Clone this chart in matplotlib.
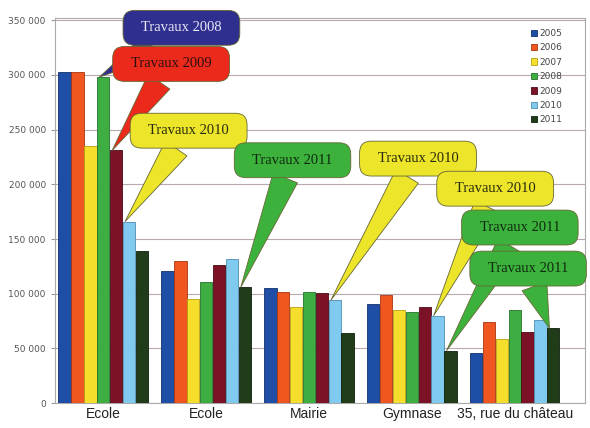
import numpy as np
import matplotlib

matplotlib.use("Agg")
import matplotlib.pyplot as plt
from matplotlib.ticker import FuncFormatter

# --- data ------------------------------------------------------------------
sites = ["Ecole", "Ecole", "Mairie", "Gymnase", "35, rue du château"]
years = ["2005", "2006", "2007", "2008", "2009", "2010", "2011"]

v2005 = [303000, 121000, 105000, 91000, 45500]
v2006 = [303000, 129500, 102000, 98500, 74000]
v2007 = [235000, 95000, 87500, 85000, 59000]
v2008 = [298000, 111000, 102000, 83000, 85000]
v2009 = [231000, 126000, 101000, 87500, 65000]
v2010 = [166000, 132000, 94000, 80000, 76000]
v2011 = [139500, 106000, 64000, 48000, 68500]

series = [v2005, v2006, v2007, v2008, v2009, v2010, v2011]
colors = ["#1f4ea6", "#f0561f", "#f6df2c", "#3fae42",
          "#7c1225", "#80c9ef", "#203c18"]
edges = ["#12306a", "#a83510", "#b8a010", "#23722a",
         "#4a0a14", "#4e8db0", "#0f1f0b"]

# callouts: (label, year index of target bar, site index, face, text colour)
callouts = [
    ("Travaux 2008", 3, 0, "#2e2f8e", "#e8e8f4"),
    ("Travaux 2009", 4, 0, "#ec2a1c", "#2a1010"),
    ("Travaux 2010", 5, 0, "#ece52a", "#2a2a10"),
    ("Travaux 2011", 6, 1, "#3cb23c", "#102a10"),
    ("Travaux 2010", 5, 2, "#ece52a", "#2a2a10"),
    ("Travaux 2010", 5, 3, "#ece52a", "#2a2a10"),
    ("Travaux 2011", 6, 3, "#3cb23c", "#102a10"),
    ("Travaux 2011", 6, 4, "#3cb23c", "#102a10"),
]
# bubble centres (x in group units, y in data units)
bubble_pos = [(0.76, 343000), (0.66, 310000), (0.83, 249000), (1.84, 222000),
              (3.06, 223500), (3.81, 196000), (4.05, 160500), (4.13, 123000)]

fig = plt.figure(figsize=(5.9, 4.28), dpi=100)
ax = fig.add_axes([0.093, 0.058, 0.898, 0.9])

x = np.arange(len(sites))
w = 0.125
for i, (vals, c, ec) in enumerate(zip(series, colors, edges)):
    ax.bar(x + (i - 3) * w, vals, width=w * 0.96, color=c, edgecolor=ec,
           linewidth=0.6, label=years[i], zorder=3)

ax.set_xlim(-0.47, 4.68)
ax.set_ylim(0, 352000)
ax.set_yticks(np.arange(0, 350001, 50000))
ax.yaxis.set_major_formatter(
    FuncFormatter(lambda v, _: f"{int(v):,}".replace(",", " ")))
ax.tick_params(axis="y", labelsize=6.5, labelcolor="#555555", color="#999999",
               length=3)
ax.set_xticks(x)
ax.set_xticklabels(sites, fontsize=10, family="Liberation Sans",
                   color="#222222")
ax.tick_params(axis="x", length=0, pad=3)
ax.grid(axis="y", color="#b8a8b0", linewidth=0.8, zorder=0)
for s in ax.spines.values():
    s.set_color("#aaaaaa")
    s.set_linewidth(0.8)

leg = ax.legend(loc="upper right", bbox_to_anchor=(0.975, 0.995), fontsize=6.5,
                handlelength=0.7, handleheight=0.7, handletextpad=0.3,
                labelspacing=0.6, borderpad=0.5, frameon=True,
                fancybox=False, framealpha=0.0, edgecolor="#999999")
for t in leg.get_texts():
    t.set_color("#444444")

for k, ((label, yi, si, face, tc), (bx, by)) in enumerate(zip(callouts,
                                                              bubble_pos)):
    tx = si + (yi - 3) * w - w * 0.3
    ty = series[yi][si]
    ax.annotate(f"  {label}  ", xy=(tx, ty), xytext=(bx, by),
                textcoords="data", fontsize=10.5, family="Liberation Serif",
                color=tc, ha="center", va="center", zorder=5 + k,
                annotation_clip=False,
                bbox=dict(boxstyle="round,pad=0.75,rounding_size=0.8",
                          fc=face, ec="#666633", lw=0.6),
                arrowprops=dict(arrowstyle="wedge,tail_width=1.8",
                                fc=face, ec="#666633", lw=0.6,
                                shrinkA=0, shrinkB=0))

fig.savefig("out.png", dpi=100)
